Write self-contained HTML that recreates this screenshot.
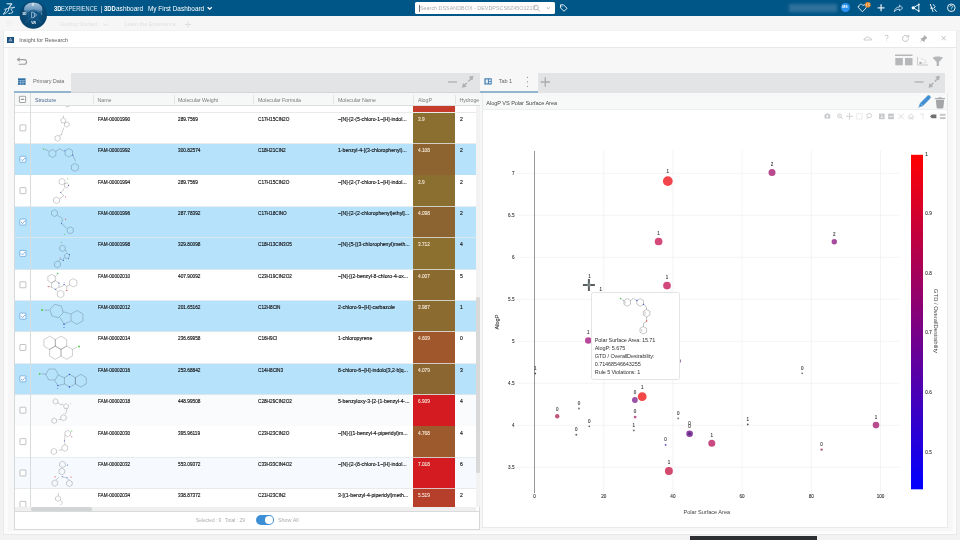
<!DOCTYPE html><html><head><meta charset='utf-8'><style>
*{box-sizing:border-box;margin:0;padding:0}
html,body{width:960px;height:540px;overflow:hidden;background:#f2f2f2;font-family:'Liberation Sans',sans-serif;color:#3d3d3d}
body{position:relative}
#root{position:absolute;left:0;top:0;width:960px;height:540px;will-change:transform}
.a{position:absolute}
.t{position:absolute;white-space:nowrap;line-height:1}
svg{position:absolute;overflow:visible}
</style></head><body><div id='root'>
<div class="a" style="left:0;top:0;width:960px;height:16px;background:#005686"></div>
<div class="a" style="left:0;top:16px;width:960px;height:14px;background:#f6f6f6"></div>
<div class="t" style="left:60px;top:21.75px;font-size:5.5px;color:#e0e1e3;letter-spacing:0px;font-weight:400;">Getting Started</div>
<div class="t" style="left:124.5px;top:21.80px;font-size:5.4px;color:#e0e1e3;letter-spacing:0px;font-weight:400;">Learn the Experience</div>
<svg style="left:0;top:0" width="960" height="30"><path d="M6 21.5h6M6 23.5h6M6 25.5h6" stroke="#ebebec" stroke-width="0.6"/><path d="M103 23.5l2.5 2 2.5-2" stroke="#dcdddf" stroke-width="0.8" fill="none"/><path d="M185 24.5h6M188 21.5v6" stroke="#dcdddf" stroke-width="0.9"/></svg>
<div class="t" style="left:53.9px;top:4.50px;font-size:7px;color:#fff;font-weight:700;transform:scaleX(0.82);transform-origin:0 50%;">3D</div>
<div class="t" style="left:61.25px;top:4.50px;font-size:7px;color:#e9f0f6;font-weight:400;transform:scaleX(0.81);transform-origin:0 50%;">EXPERIENCE</div>
<div class="t" style="left:100.6px;top:4.70px;font-size:7px;color:#e9f0f6;font-weight:400;transform:scaleX(1);transform-origin:0 50%;">|</div>
<div class="t" style="left:103.9px;top:4.50px;font-size:7px;color:#fff;font-weight:700;transform:scaleX(0.83);transform-origin:0 50%;">3DD</div>
<div class="t" style="left:115.8px;top:4.50px;font-size:7px;color:#fff;font-weight:400;transform:scaleX(0.93);transform-origin:0 50%;">ashboard</div>
<div class="t" style="left:147.8px;top:4.50px;font-size:7px;color:#fff;font-weight:400;transform:scaleX(0.92);transform-origin:0 50%;">My First Dashboard</div>
<svg style="left:0;top:0" width="960" height="16"><path d="M207.6 7.2l2.1 2 2.1-2" stroke="#fff" stroke-width="1.3" fill="none"/></svg>
<div class="a" style="left:415px;top:2.3px;width:140px;height:11.7px;background:#fff;border-radius:1.5px"></div>
<div class="a" style="left:418.8px;top:4.6px;width:0.55px;height:7px;background:#777"></div>
<div class="t" style="left:420px;top:5.50px;font-size:5.6px;color:#acacac;font-weight:400;transform:scaleX(0.965);transform-origin:0 50%;">Search DSSANDBOX - DEVDPSCS6Z45O1217</div>
<svg style="left:0;top:0" width="960" height="16"><circle cx="536" cy="7.6" r="2.3" stroke="#9a9a9a" stroke-width="0.7" fill="none"/><path d="M537.7 9.3l2 2" stroke="#9a9a9a" stroke-width="0.8"/><path d="M546.8 7.4l1.5 1.3 1.5-1.3" stroke="#8a8a8a" stroke-width="0.7" fill="none"/><path d="M560.5 4.8h3l3.5 3.5-3 3-3.5-3.5z" stroke="#fff" stroke-width="0.9" fill="none"/><circle cx="562" cy="6.3" r="0.5" fill="#fff"/></svg>
<div class="a" style="left:789px;top:4px;width:48px;height:8px;background:#3f7ba5;filter:blur(1.6px);opacity:0.75"></div>
<div class="a" style="left:840.9px;top:3.1px;width:9.4px;height:9.4px;border-radius:50%;background:#2b91f0"></div>
<div class="t" style="left:842.3px;top:6.30px;font-size:3.6px;color:#fff;letter-spacing:-0.15px;font-weight:700;">MS</div>
<svg style="left:0;top:0" width="960" height="16"><path d="M859 6.5c0-1.5 1.2-2.5 2.5-2.2 0.8 0.2 1.2 0.7 1.5 1.3 0.4-0.6 1.2-1 2-0.8 1.4 0.4 1.8 2 1 3.2l-3.6 3.8-3.6-3.8c-0.5-0.5-0.8-1-0.8-1.5z" stroke="#e6eef5" stroke-width="0.9" fill="none"/><circle cx="867.8" cy="4.8" r="2.8" fill="#e8892a"/><path d="M866.5 3.5v2.6M868.2 3.5h1.2l-0.7 1 0.7 1.3h-1.2" stroke="#fff" stroke-width="0.45" fill="none"/><path d="M877.6 7.8h7M881.1 4.3v7" stroke="#dde8f1" stroke-width="1.3"/><path d="M894.3 11.8c0.3-3 2.2-4.8 5.2-4.8v-1.8l3.2 2.8-3.2 2.8v-1.6c-2.2 0-3.8 0.8-5.2 2.6z" stroke="#e6eef5" stroke-width="0.8" fill="none" stroke-linejoin="round"/><path d="M913.2 7.8l5.6-3.3M913.2 7.8l5.6 3.3M918.8 4.5v6.6" stroke="#fff" stroke-width="0.9"/><circle cx="913.2" cy="7.8" r="1.6" fill="#fff"/><circle cx="918.8" cy="4.5" r="0.9" fill="#fff"/><circle cx="918.8" cy="11.1" r="0.9" fill="#fff"/><path d="M930.3 4l2.8 8M933 4.2l2.2 2.6-1.6 1.6M930.2 8.2h3.2M934.3 8.8l2.3 3" stroke="#fff" stroke-width="0.9" fill="none"/><circle cx="951.3" cy="7.8" r="3.8" stroke="#fff" stroke-width="0.9" fill="none"/><path d="M950 6.6c0-1.6 2.6-1.6 2.6 0 0 1-1.3 1-1.3 2" stroke="#fff" stroke-width="0.8" fill="none"/><circle cx="951.3" cy="9.9" r="0.45" fill="#fff"/></svg>
<svg style="left:0;top:0" width="20" height="16"><path d="M7 3.7L11.8 3.9L8.6 8.3" stroke="#d8e8f4" stroke-width="1.1" fill="none" stroke-linecap="round" stroke-linejoin="round"/><path d="M4.6 9.2C7 8.5 11 7.6 14.6 7.2" stroke="#c6dcee" stroke-width="0.8" fill="none" stroke-linecap="round"/><path d="M8.6 8.6C9.3 11 6.5 13.3 3.3 14.2C4.8 12.6 5.8 11 6.3 9.1" stroke="#d8e8f4" stroke-width="1" fill="none" stroke-linecap="round"/><path d="M14.2 7.4C11.6 8.2 9.9 9.5 12.4 11.1C13.8 12 12.6 13.3 8.9 13.5" stroke="#d8e8f4" stroke-width="1" fill="none" stroke-linecap="round"/></svg>
<svg style="left:0;top:0" width="60" height="32"><defs><radialGradient id="cg" cx="0.5" cy="0.45" r="0.6"><stop offset="0" stop-color="#0e5585"/><stop offset="1" stop-color="#06416a"/></radialGradient><linearGradient id="cg2" x1="0" y1="0" x2="0" y2="1"><stop offset="0" stop-color="#a4c0d8"/><stop offset="0.6" stop-color="#6f9cc0"/><stop offset="1" stop-color="#3f77a3" stop-opacity="0.3"/></linearGradient></defs><circle cx="33.3" cy="15" r="13.7" fill="url(#cg)"/><path d="M24.2 10.2c-0.6-4.3 3.6-7.6 9.1-7.6s9.7 3.3 9.1 7.6c-0.2 1.4-0.9 2.6-1.7 3.6-2-1.6-4.5-2.5-7.4-2.5s-5.4 0.9-7.4 2.5c-0.8-1-1.5-2.2-1.7-3.6z" fill="url(#cg2)"/><circle cx="33.3" cy="15" r="5.2" fill="#0b5080" fill-opacity="0.5" stroke="#2a6d9a" stroke-width="0.5"/><path d="M25.5 22.5l4-3.6M41.1 22.5l-4-3.6" stroke="#3a78a2" stroke-width="0.5"/><path d="M31.6 12.2v5.6h1.2c2.2 0 2.2-5.6 0-5.6z" stroke="#dce8f2" stroke-width="0.65" fill="none"/><path d="M33.8 12.6l2.9 2.4-2.9 2.4" stroke="#dce8f2" stroke-width="0.65" fill="none"/></svg>
<div class="t" style="left:22.3px;top:13.30px;font-size:3.4px;color:#fff;letter-spacing:-0.25px;font-weight:700;">3D</div>
<div class="t" style="left:31.8px;top:4.20px;font-size:3.6px;color:#ffffff;letter-spacing:0px;font-weight:700;">V</div>
<div class="t" style="left:31.3px;top:21.95px;font-size:3.3px;color:#fff;letter-spacing:-0.25px;font-weight:700;">V.R</div>
<div class="t" style="left:41.3px;top:12.90px;font-size:3.8px;color:#dfe7ee;letter-spacing:0px;font-weight:400;font-style:italic">i</div>
<div class="a" style="left:3.3px;top:30.5px;width:954.2px;height:504px;background:#fcfcfc;border:1px solid #eaeaea"></div>
<div class="a" style="left:7.8px;top:47.5px;width:945px;height:483.5px;background:#f7f7f7"></div>
<div class="a" style="left:4.3px;top:31.3px;width:952.2px;height:16.5px;background:#fff;border-bottom:1px solid #e6e8e9"></div>
<div class="a" style="left:7.2px;top:36.6px;width:6.6px;height:6.4px;background:#1d4f7f"></div>
<svg style="left:0;top:0" width="20" height="50"><path d="M9 41.5l1.5-3.5 1.5 3.5M9.5 40.8h2" stroke="#cfe0ee" stroke-width="0.6" fill="none"/></svg>
<div class="t" style="left:19.2px;top:37.75px;font-size:5.5px;color:#606060;letter-spacing:-0.02px;font-weight:400;">Insight for Research</div>
<svg style="left:0;top:0" width="960" height="72"><path d="M864 40h7.5c0.3-1.2-0.8-2-1.8-1.7-0.4-1.6-2.8-2-3.6-0.5-1.2-0.2-2.3 1-2.1 2.2z" stroke="#a9abad" stroke-width="0.6" fill="none"/><path d="M884.8 36.3c0.3-1.5 3.3-1.5 3.3 0.3 0 1.3-1.6 1.2-1.6 2.7" stroke="#a9abad" stroke-width="0.7" fill="none"/><circle cx="886.5" cy="41" r="0.4" fill="#a9abad"/><path d="M908.5 38.5a3 3 0 1 1-0.9-2.2" stroke="#a9abad" stroke-width="0.7" fill="none"/><path d="M908.7 34.8v2.2h-2.2" stroke="#a9abad" stroke-width="0.7" fill="none"/><path d="M924.5 35.5l2.5 2.5-1.3 0.5-1.5 2-0.3 1.2-3-3 1.2-0.3 2-1.5z M922.2 39.7l-1.7 1.8" stroke="#a9abad" stroke-width="0.7" fill="#a9abad"/><path d="M941.5 36l4.3 4.3M945.8 36l-4.3 4.3" stroke="#a9abad" stroke-width="0.7"/><path d="M17.6 59.6h6.6c1.6 0 2.4 1 2.4 2.4s-0.8 2.3-2.4 2.3h-5.6" stroke="#9d9fa1" stroke-width="1.1" fill="none"/><path d="M16.6 59.6l3-2.4v4.8z" fill="#9d9fa1"/><rect x="895" y="54.5" width="17.5" height="1.5" fill="#b5b7b9"/><rect x="895.3" y="58" width="7.5" height="7.3" fill="#b5b7b9"/><rect x="905" y="58" width="7.5" height="7.3" fill="#b5b7b9"/><path d="M917.5 57v8h10.5" stroke="#b5b7b9" stroke-width="0.7" fill="none"/><circle cx="920.5" cy="63" r="1.3" fill="#b5b7b9"/><circle cx="922" cy="59" r="0.6" fill="#b5b7b9"/><circle cx="925" cy="60" r="0.6" fill="#b5b7b9"/><circle cx="924" cy="63" r="0.6" fill="#b5b7b9"/><circle cx="926" cy="62" r="0.5" fill="#b5b7b9"/><path d="M932.8 58c0-2 10-2 10 0l-3.8 4v4h-2.4v-4z" fill="#b5b7b9"/></svg>
<div class="a" style="left:14px;top:73px;width:466px;height:19.5px;background:#e3e4e5"></div>
<div class="a" style="left:14px;top:73px;width:57px;height:19.5px;background:#f7f7f7"></div>
<div class="a" style="left:14px;top:91.8px;width:466px;height:0.8px;background:#d3d5d6"></div>
<div class="a" style="left:14px;top:91.2px;width:57px;height:1.5px;background:#93b4cf"></div>
<svg style="left:0;top:0" width="480" height="95"><rect x="18" y="78.3" width="7.6" height="6.6" fill="#3270a8"/><path d="M18 80.6h7.6M18 82.7h7.6M20.6 80.6v4.3M23 80.6v4.3" stroke="#b9d2e8" stroke-width="0.55"/><path d="M448 82h9" stroke="#aeb0b2" stroke-width="1.3"/><path d="M468.3 81.5l2.8-2.8M466.9 82.9l-2.7 2.7" stroke="#aeb0b2" stroke-width="1.4"/><path d="M473.4 75.8l-4.8 1 3.8 3.8z M462 87.8l4.8-1-3.8-3.8z" fill="#aeb0b2"/></svg>
<div class="t" style="left:33px;top:78.80px;font-size:5.6px;color:#727272;letter-spacing:-0.12px;font-weight:400;">Primary Data</div>
<div class="a" style="left:14px;top:92.5px;width:466px;height:437px;background:#fff;border:1px solid #d6d9da;border-top:none"></div>
<div class="a" style="left:14.5px;top:92.5px;width:465px;height:13px;background:#f6f7f7;border-bottom:1px solid #dcdfe0"></div>
<div class="a" style="left:14.5px;top:92.5px;width:464.5px;height:13px;overflow:hidden">
<div class="t" style="left:20.5px;top:5px;font-size:5.3px;color:#46678a;letter-spacing:-0.05px">Structure</div>
<div class="t" style="left:83.0px;top:5px;font-size:5.3px;color:#7c7c7c;letter-spacing:-0.05px">Name</div>
<div class="t" style="left:163.5px;top:5px;font-size:5.3px;color:#7c7c7c;letter-spacing:-0.05px">Molecular Weight</div>
<div class="t" style="left:243.5px;top:5px;font-size:5.3px;color:#7c7c7c;letter-spacing:-0.05px">Molecular Formula</div>
<div class="t" style="left:323.5px;top:5px;font-size:5.3px;color:#7c7c7c;letter-spacing:-0.05px">Molecular Name</div>
<div class="t" style="left:403.5px;top:5px;font-size:5.3px;color:#7c7c7c;letter-spacing:-0.05px">AlogP</div>
<div class="t" style="left:445.0px;top:5px;font-size:5.3px;color:#7c7c7c;letter-spacing:-0.05px">Hydrogen Bond Donors</div>
</div>
<div class="a" style="left:93px;top:95px;width:0.7px;height:8.5px;background:#e2e4e5"></div>
<div class="a" style="left:173.75px;top:95px;width:0.7px;height:8.5px;background:#e2e4e5"></div>
<div class="a" style="left:253.25px;top:95px;width:0.7px;height:8.5px;background:#e2e4e5"></div>
<div class="a" style="left:333.25px;top:95px;width:0.7px;height:8.5px;background:#e2e4e5"></div>
<div class="a" style="left:413.25px;top:95px;width:0.7px;height:8.5px;background:#e2e4e5"></div>
<div class="a" style="left:455px;top:95px;width:0.7px;height:8.5px;background:#e2e4e5"></div>
<div class="a" style="left:30px;top:92.8px;width:0.7px;height:13px;background:#d9dcdd"></div>
<svg style="left:0;top:0" width="40" height="110"><rect x="19.4" y="96.3" width="6.2" height="6.2" rx="0.6" fill="#fff" stroke="#6f7173" stroke-width="0.65"/><path d="M20.8 99.3h3.4" stroke="#555" stroke-width="0.75"/></svg>
<div class="a" style="left:14.5px;top:105.5px;width:465px;height:401.5px;overflow:hidden">
<div class="a" style="left:398.75px;top:0.7000000000000028px;width:41.5px;height:5.6px;background:#c53d2a"></div>
<div class="a" style="left:0;top:6.299999999999997px;width:461.5px;height:0.8px;background:#e8eaec"></div>
<div class="a" style="left:0;top:7.20px;width:465px;height:31.37px;background:#fff"></div>
<div class="a" style="left:398.75px;top:7.20px;width:41.5px;height:31.37px;background:#8b6f30"></div>
<div class="a" style="left:0;top:37.67px;width:465px;height:0.9px;background:rgba(228,231,234,0.8)"></div>
<div class="t" style="left:83.5px;top:11.30px;font-size:5.6px;color:#111;-webkit-text-stroke:0.15px #111;transform:scaleX(0.84);transform-origin:0 50%">FAM-00001990</div>
<div class="t" style="left:163.3px;top:11.30px;font-size:5.6px;color:#111;-webkit-text-stroke:0.15px #111;transform:scaleX(0.85);transform-origin:0 50%">289.7569</div>
<div class="t" style="left:243.3px;top:11.30px;font-size:5.6px;color:#111;-webkit-text-stroke:0.15px #111;transform:scaleX(0.84);transform-origin:0 50%">C17H15ClN2O</div>
<div class="t" style="left:323.7px;top:11.30px;font-size:5.6px;color:#111;-webkit-text-stroke:0.15px #111;transform:scaleX(0.92);transform-origin:0 50%">~[N]-[2-(5-chloro-1~[H]-indol...</div>
<div class="t" style="left:403.5px;top:11.30px;font-size:5.6px;color:#f5ead8;-webkit-text-stroke:0.1px #f5ead8;transform:scaleX(0.85);transform-origin:0 50%">3.9</div>
<div class="t" style="left:445.5px;top:11.30px;font-size:5.6px;color:#111;-webkit-text-stroke:0.15px #111;transform:scaleX(0.9);transform-origin:0 50%">2</div>
<svg style="left:0;top:0" width="20" height="400"><rect x="4.899999999999999" y="18.90" width="6" height="6" rx="0.6" fill="#fff" stroke="#9a9c9e" stroke-width="0.6"/></svg>
<div class="a" style="left:0;top:38.57px;width:465px;height:31.37px;background:#b6e2fc"></div>
<div class="a" style="left:398.75px;top:38.57px;width:41.5px;height:31.37px;background:#8d6330"></div>
<div class="a" style="left:0;top:69.04px;width:465px;height:0.9px;background:rgba(228,231,234,0.8)"></div>
<div class="t" style="left:83.5px;top:42.67px;font-size:5.6px;color:#111;-webkit-text-stroke:0.15px #111;transform:scaleX(0.84);transform-origin:0 50%">FAM-00001992</div>
<div class="t" style="left:163.3px;top:42.67px;font-size:5.6px;color:#111;-webkit-text-stroke:0.15px #111;transform:scaleX(0.85);transform-origin:0 50%">300.82574</div>
<div class="t" style="left:243.3px;top:42.67px;font-size:5.6px;color:#111;-webkit-text-stroke:0.15px #111;transform:scaleX(0.84);transform-origin:0 50%">C18H21ClN2</div>
<div class="t" style="left:323.7px;top:42.67px;font-size:5.6px;color:#111;-webkit-text-stroke:0.15px #111;transform:scaleX(0.92);transform-origin:0 50%">1-benzyl-4-[(3-chlorophenyl)...</div>
<div class="t" style="left:403.5px;top:42.67px;font-size:5.6px;color:#f5ead8;-webkit-text-stroke:0.1px #f5ead8;transform:scaleX(0.85);transform-origin:0 50%">4.108</div>
<div class="t" style="left:445.5px;top:42.67px;font-size:5.6px;color:#111;-webkit-text-stroke:0.15px #111;transform:scaleX(0.9);transform-origin:0 50%">2</div>
<svg style="left:0;top:0" width="20" height="400"><rect x="4.899999999999999" y="50.27" width="6" height="6" rx="0.6" fill="#fff" stroke="#4a91d2" stroke-width="0.6"/><path d="M6.0 53.27l1.5 1.5 2.8-3" stroke="#4a91d2" stroke-width="0.7" fill="none"/></svg>
<div class="a" style="left:0;top:69.94px;width:465px;height:31.37px;background:#fff"></div>
<div class="a" style="left:398.75px;top:69.94px;width:41.5px;height:31.37px;background:#8b6f30"></div>
<div class="a" style="left:0;top:100.41px;width:465px;height:0.9px;background:rgba(228,231,234,0.8)"></div>
<div class="t" style="left:83.5px;top:74.04px;font-size:5.6px;color:#111;-webkit-text-stroke:0.15px #111;transform:scaleX(0.84);transform-origin:0 50%">FAM-00001994</div>
<div class="t" style="left:163.3px;top:74.04px;font-size:5.6px;color:#111;-webkit-text-stroke:0.15px #111;transform:scaleX(0.85);transform-origin:0 50%">289.7569</div>
<div class="t" style="left:243.3px;top:74.04px;font-size:5.6px;color:#111;-webkit-text-stroke:0.15px #111;transform:scaleX(0.84);transform-origin:0 50%">C17H15ClN2O</div>
<div class="t" style="left:323.7px;top:74.04px;font-size:5.6px;color:#111;-webkit-text-stroke:0.15px #111;transform:scaleX(0.92);transform-origin:0 50%">~[N]-[2-(7-chloro-1~[H]-indol...</div>
<div class="t" style="left:403.5px;top:74.04px;font-size:5.6px;color:#f5ead8;-webkit-text-stroke:0.1px #f5ead8;transform:scaleX(0.85);transform-origin:0 50%">3.9</div>
<div class="t" style="left:445.5px;top:74.04px;font-size:5.6px;color:#111;-webkit-text-stroke:0.15px #111;transform:scaleX(0.9);transform-origin:0 50%">2</div>
<svg style="left:0;top:0" width="20" height="400"><rect x="4.899999999999999" y="81.64" width="6" height="6" rx="0.6" fill="#fff" stroke="#9a9c9e" stroke-width="0.6"/></svg>
<div class="a" style="left:0;top:101.31px;width:465px;height:31.37px;background:#b6e2fc"></div>
<div class="a" style="left:398.75px;top:101.31px;width:41.5px;height:31.37px;background:#8c6431"></div>
<div class="a" style="left:0;top:131.78px;width:465px;height:0.9px;background:rgba(228,231,234,0.8)"></div>
<div class="t" style="left:83.5px;top:105.41px;font-size:5.6px;color:#111;-webkit-text-stroke:0.15px #111;transform:scaleX(0.84);transform-origin:0 50%">FAM-00001996</div>
<div class="t" style="left:163.3px;top:105.41px;font-size:5.6px;color:#111;-webkit-text-stroke:0.15px #111;transform:scaleX(0.85);transform-origin:0 50%">287.78392</div>
<div class="t" style="left:243.3px;top:105.41px;font-size:5.6px;color:#111;-webkit-text-stroke:0.15px #111;transform:scaleX(0.84);transform-origin:0 50%">C17H18ClNO</div>
<div class="t" style="left:323.7px;top:105.41px;font-size:5.6px;color:#111;-webkit-text-stroke:0.15px #111;transform:scaleX(0.92);transform-origin:0 50%">~[N]-[2-(2-chlorophenyl)ethyl]...</div>
<div class="t" style="left:403.5px;top:105.41px;font-size:5.6px;color:#f5ead8;-webkit-text-stroke:0.1px #f5ead8;transform:scaleX(0.85);transform-origin:0 50%">4.098</div>
<div class="t" style="left:445.5px;top:105.41px;font-size:5.6px;color:#111;-webkit-text-stroke:0.15px #111;transform:scaleX(0.9);transform-origin:0 50%">2</div>
<svg style="left:0;top:0" width="20" height="400"><rect x="4.899999999999999" y="113.01" width="6" height="6" rx="0.6" fill="#fff" stroke="#4a91d2" stroke-width="0.6"/><path d="M6.0 116.01l1.5 1.5 2.8-3" stroke="#4a91d2" stroke-width="0.7" fill="none"/></svg>
<div class="a" style="left:0;top:132.68px;width:465px;height:31.37px;background:#b6e2fc"></div>
<div class="a" style="left:398.75px;top:132.68px;width:41.5px;height:31.37px;background:#8b7030"></div>
<div class="a" style="left:0;top:163.15px;width:465px;height:0.9px;background:rgba(228,231,234,0.8)"></div>
<div class="t" style="left:83.5px;top:136.78px;font-size:5.6px;color:#111;-webkit-text-stroke:0.15px #111;transform:scaleX(0.84);transform-origin:0 50%">FAM-00001998</div>
<div class="t" style="left:163.3px;top:136.78px;font-size:5.6px;color:#111;-webkit-text-stroke:0.15px #111;transform:scaleX(0.85);transform-origin:0 50%">329.80098</div>
<div class="t" style="left:243.3px;top:136.78px;font-size:5.6px;color:#111;-webkit-text-stroke:0.15px #111;transform:scaleX(0.84);transform-origin:0 50%">C18H13ClN3O5</div>
<div class="t" style="left:323.7px;top:136.78px;font-size:5.6px;color:#111;-webkit-text-stroke:0.15px #111;transform:scaleX(0.92);transform-origin:0 50%">~[N]-[5-[(3-chlorophenyl)meth...</div>
<div class="t" style="left:403.5px;top:136.78px;font-size:5.6px;color:#f5ead8;-webkit-text-stroke:0.1px #f5ead8;transform:scaleX(0.85);transform-origin:0 50%">3.712</div>
<div class="t" style="left:445.5px;top:136.78px;font-size:5.6px;color:#111;-webkit-text-stroke:0.15px #111;transform:scaleX(0.9);transform-origin:0 50%">4</div>
<svg style="left:0;top:0" width="20" height="400"><rect x="4.899999999999999" y="144.38" width="6" height="6" rx="0.6" fill="#fff" stroke="#4a91d2" stroke-width="0.6"/><path d="M6.0 147.38l1.5 1.5 2.8-3" stroke="#4a91d2" stroke-width="0.7" fill="none"/></svg>
<div class="a" style="left:0;top:164.05px;width:465px;height:31.37px;background:#fff"></div>
<div class="a" style="left:398.75px;top:164.05px;width:41.5px;height:31.37px;background:#8b6a30"></div>
<div class="a" style="left:0;top:194.52px;width:465px;height:0.9px;background:rgba(228,231,234,0.8)"></div>
<div class="t" style="left:83.5px;top:168.15px;font-size:5.6px;color:#111;-webkit-text-stroke:0.15px #111;transform:scaleX(0.84);transform-origin:0 50%">FAM-00002010</div>
<div class="t" style="left:163.3px;top:168.15px;font-size:5.6px;color:#111;-webkit-text-stroke:0.15px #111;transform:scaleX(0.85);transform-origin:0 50%">407.90092</div>
<div class="t" style="left:243.3px;top:168.15px;font-size:5.6px;color:#111;-webkit-text-stroke:0.15px #111;transform:scaleX(0.84);transform-origin:0 50%">C23H19ClN2O2</div>
<div class="t" style="left:323.7px;top:168.15px;font-size:5.6px;color:#111;-webkit-text-stroke:0.15px #111;transform:scaleX(0.92);transform-origin:0 50%">~[N]-[(2-benzyl-8-chloro-4-ox...</div>
<div class="t" style="left:403.5px;top:168.15px;font-size:5.6px;color:#f5ead8;-webkit-text-stroke:0.1px #f5ead8;transform:scaleX(0.85);transform-origin:0 50%">4.007</div>
<div class="t" style="left:445.5px;top:168.15px;font-size:5.6px;color:#111;-webkit-text-stroke:0.15px #111;transform:scaleX(0.9);transform-origin:0 50%">5</div>
<svg style="left:0;top:0" width="20" height="400"><rect x="4.899999999999999" y="175.75" width="6" height="6" rx="0.6" fill="#fff" stroke="#9a9c9e" stroke-width="0.6"/></svg>
<div class="a" style="left:0;top:195.42px;width:465px;height:31.37px;background:#b6e2fc"></div>
<div class="a" style="left:398.75px;top:195.42px;width:41.5px;height:31.37px;background:#8b6b30"></div>
<div class="a" style="left:0;top:225.89px;width:465px;height:0.9px;background:rgba(228,231,234,0.8)"></div>
<div class="t" style="left:83.5px;top:199.52px;font-size:5.6px;color:#111;-webkit-text-stroke:0.15px #111;transform:scaleX(0.84);transform-origin:0 50%">FAM-00002012</div>
<div class="t" style="left:163.3px;top:199.52px;font-size:5.6px;color:#111;-webkit-text-stroke:0.15px #111;transform:scaleX(0.85);transform-origin:0 50%">201.65162</div>
<div class="t" style="left:243.3px;top:199.52px;font-size:5.6px;color:#111;-webkit-text-stroke:0.15px #111;transform:scaleX(0.84);transform-origin:0 50%">C12H8ClN</div>
<div class="t" style="left:323.7px;top:199.52px;font-size:5.6px;color:#111;-webkit-text-stroke:0.15px #111;transform:scaleX(0.92);transform-origin:0 50%">2-chloro-9~[H]-carbazole</div>
<div class="t" style="left:403.5px;top:199.52px;font-size:5.6px;color:#f5ead8;-webkit-text-stroke:0.1px #f5ead8;transform:scaleX(0.85);transform-origin:0 50%">3.987</div>
<div class="t" style="left:445.5px;top:199.52px;font-size:5.6px;color:#111;-webkit-text-stroke:0.15px #111;transform:scaleX(0.9);transform-origin:0 50%">1</div>
<svg style="left:0;top:0" width="20" height="400"><rect x="4.899999999999999" y="207.12" width="6" height="6" rx="0.6" fill="#fff" stroke="#4a91d2" stroke-width="0.6"/><path d="M6.0 210.12l1.5 1.5 2.8-3" stroke="#4a91d2" stroke-width="0.7" fill="none"/></svg>
<div class="a" style="left:0;top:226.79px;width:465px;height:31.37px;background:#fff"></div>
<div class="a" style="left:398.75px;top:226.79px;width:41.5px;height:31.37px;background:#a0572b"></div>
<div class="a" style="left:0;top:257.26px;width:465px;height:0.9px;background:rgba(228,231,234,0.8)"></div>
<div class="t" style="left:83.5px;top:230.89px;font-size:5.6px;color:#111;-webkit-text-stroke:0.15px #111;transform:scaleX(0.84);transform-origin:0 50%">FAM-00002014</div>
<div class="t" style="left:163.3px;top:230.89px;font-size:5.6px;color:#111;-webkit-text-stroke:0.15px #111;transform:scaleX(0.85);transform-origin:0 50%">236.69958</div>
<div class="t" style="left:243.3px;top:230.89px;font-size:5.6px;color:#111;-webkit-text-stroke:0.15px #111;transform:scaleX(0.84);transform-origin:0 50%">C16H9Cl</div>
<div class="t" style="left:323.7px;top:230.89px;font-size:5.6px;color:#111;-webkit-text-stroke:0.15px #111;transform:scaleX(0.92);transform-origin:0 50%">1-chloropyrene</div>
<div class="t" style="left:403.5px;top:230.89px;font-size:5.6px;color:#f5ead8;-webkit-text-stroke:0.1px #f5ead8;transform:scaleX(0.85);transform-origin:0 50%">4.609</div>
<div class="t" style="left:445.5px;top:230.89px;font-size:5.6px;color:#111;-webkit-text-stroke:0.15px #111;transform:scaleX(0.9);transform-origin:0 50%">0</div>
<svg style="left:0;top:0" width="20" height="400"><rect x="4.899999999999999" y="238.49" width="6" height="6" rx="0.6" fill="#fff" stroke="#9a9c9e" stroke-width="0.6"/></svg>
<div class="a" style="left:0;top:258.16px;width:465px;height:31.37px;background:#b6e2fc"></div>
<div class="a" style="left:398.75px;top:258.16px;width:41.5px;height:31.37px;background:#8b6630"></div>
<div class="a" style="left:0;top:288.63px;width:465px;height:0.9px;background:rgba(228,231,234,0.8)"></div>
<div class="t" style="left:83.5px;top:262.26px;font-size:5.6px;color:#111;-webkit-text-stroke:0.15px #111;transform:scaleX(0.84);transform-origin:0 50%">FAM-00002016</div>
<div class="t" style="left:163.3px;top:262.26px;font-size:5.6px;color:#111;-webkit-text-stroke:0.15px #111;transform:scaleX(0.85);transform-origin:0 50%">253.68842</div>
<div class="t" style="left:243.3px;top:262.26px;font-size:5.6px;color:#111;-webkit-text-stroke:0.15px #111;transform:scaleX(0.84);transform-origin:0 50%">C14H8ClN3</div>
<div class="t" style="left:323.7px;top:262.26px;font-size:5.6px;color:#111;-webkit-text-stroke:0.15px #111;transform:scaleX(0.92);transform-origin:0 50%">8-chloro-6~[H]-indolo[3,2-b]q...</div>
<div class="t" style="left:403.5px;top:262.26px;font-size:5.6px;color:#f5ead8;-webkit-text-stroke:0.1px #f5ead8;transform:scaleX(0.85);transform-origin:0 50%">4.079</div>
<div class="t" style="left:445.5px;top:262.26px;font-size:5.6px;color:#111;-webkit-text-stroke:0.15px #111;transform:scaleX(0.9);transform-origin:0 50%">3</div>
<svg style="left:0;top:0" width="20" height="400"><rect x="4.899999999999999" y="269.86" width="6" height="6" rx="0.6" fill="#fff" stroke="#4a91d2" stroke-width="0.6"/><path d="M6.0 272.86l1.5 1.5 2.8-3" stroke="#4a91d2" stroke-width="0.7" fill="none"/></svg>
<div class="a" style="left:0;top:289.53px;width:465px;height:31.37px;background:#fafbfd"></div>
<div class="a" style="left:398.75px;top:289.53px;width:41.5px;height:31.37px;background:#d41b22"></div>
<div class="a" style="left:0;top:320.00px;width:465px;height:0.9px;background:rgba(228,231,234,0.8)"></div>
<div class="t" style="left:83.5px;top:293.63px;font-size:5.6px;color:#111;-webkit-text-stroke:0.15px #111;transform:scaleX(0.84);transform-origin:0 50%">FAM-00002018</div>
<div class="t" style="left:163.3px;top:293.63px;font-size:5.6px;color:#111;-webkit-text-stroke:0.15px #111;transform:scaleX(0.85);transform-origin:0 50%">448.99508</div>
<div class="t" style="left:243.3px;top:293.63px;font-size:5.6px;color:#111;-webkit-text-stroke:0.15px #111;transform:scaleX(0.84);transform-origin:0 50%">C28H29ClN2O2</div>
<div class="t" style="left:323.7px;top:293.63px;font-size:5.6px;color:#111;-webkit-text-stroke:0.15px #111;transform:scaleX(0.92);transform-origin:0 50%">5-benzyloxy-3-[2-(1-benzyl-4-...</div>
<div class="t" style="left:403.5px;top:293.63px;font-size:5.6px;color:#f5ead8;-webkit-text-stroke:0.1px #f5ead8;transform:scaleX(0.85);transform-origin:0 50%">6.909</div>
<div class="t" style="left:445.5px;top:293.63px;font-size:5.6px;color:#111;-webkit-text-stroke:0.15px #111;transform:scaleX(0.9);transform-origin:0 50%">4</div>
<svg style="left:0;top:0" width="20" height="400"><rect x="4.899999999999999" y="301.23" width="6" height="6" rx="0.6" fill="#fff" stroke="#9a9c9e" stroke-width="0.6"/></svg>
<div class="a" style="left:0;top:320.90px;width:465px;height:31.37px;background:#fff"></div>
<div class="a" style="left:398.75px;top:320.90px;width:41.5px;height:31.37px;background:#9d5a2c"></div>
<div class="a" style="left:0;top:351.37px;width:465px;height:0.9px;background:rgba(228,231,234,0.8)"></div>
<div class="t" style="left:83.5px;top:325.00px;font-size:5.6px;color:#111;-webkit-text-stroke:0.15px #111;transform:scaleX(0.84);transform-origin:0 50%">FAM-00002030</div>
<div class="t" style="left:163.3px;top:325.00px;font-size:5.6px;color:#111;-webkit-text-stroke:0.15px #111;transform:scaleX(0.85);transform-origin:0 50%">395.96119</div>
<div class="t" style="left:243.3px;top:325.00px;font-size:5.6px;color:#111;-webkit-text-stroke:0.15px #111;transform:scaleX(0.84);transform-origin:0 50%">C23H23ClN2O</div>
<div class="t" style="left:323.7px;top:325.00px;font-size:5.6px;color:#111;-webkit-text-stroke:0.15px #111;transform:scaleX(0.92);transform-origin:0 50%">~[N]-[(1-benzyl-4-piperidyl)m...</div>
<div class="t" style="left:403.5px;top:325.00px;font-size:5.6px;color:#f5ead8;-webkit-text-stroke:0.1px #f5ead8;transform:scaleX(0.85);transform-origin:0 50%">4.768</div>
<div class="t" style="left:445.5px;top:325.00px;font-size:5.6px;color:#111;-webkit-text-stroke:0.15px #111;transform:scaleX(0.9);transform-origin:0 50%">4</div>
<svg style="left:0;top:0" width="20" height="400"><rect x="4.899999999999999" y="332.60" width="6" height="6" rx="0.6" fill="#fff" stroke="#9a9c9e" stroke-width="0.6"/></svg>
<div class="a" style="left:0;top:352.27px;width:465px;height:31.37px;background:#f6f9fd"></div>
<div class="a" style="left:398.75px;top:352.27px;width:41.5px;height:31.37px;background:#d41b22"></div>
<div class="a" style="left:0;top:382.74px;width:465px;height:0.9px;background:rgba(228,231,234,0.8)"></div>
<div class="t" style="left:83.5px;top:356.37px;font-size:5.6px;color:#111;-webkit-text-stroke:0.15px #111;transform:scaleX(0.84);transform-origin:0 50%">FAM-00002032</div>
<div class="t" style="left:163.3px;top:356.37px;font-size:5.6px;color:#111;-webkit-text-stroke:0.15px #111;transform:scaleX(0.85);transform-origin:0 50%">553.09372</div>
<div class="t" style="left:243.3px;top:356.37px;font-size:5.6px;color:#111;-webkit-text-stroke:0.15px #111;transform:scaleX(0.84);transform-origin:0 50%">C33H33ClN4O2</div>
<div class="t" style="left:323.7px;top:356.37px;font-size:5.6px;color:#111;-webkit-text-stroke:0.15px #111;transform:scaleX(0.92);transform-origin:0 50%">~[N]-[2-(8-chloro-1~[H]-indol...</div>
<div class="t" style="left:403.5px;top:356.37px;font-size:5.6px;color:#f5ead8;-webkit-text-stroke:0.1px #f5ead8;transform:scaleX(0.85);transform-origin:0 50%">7.018</div>
<div class="t" style="left:445.5px;top:356.37px;font-size:5.6px;color:#111;-webkit-text-stroke:0.15px #111;transform:scaleX(0.9);transform-origin:0 50%">6</div>
<svg style="left:0;top:0" width="20" height="400"><rect x="4.899999999999999" y="363.97" width="6" height="6" rx="0.6" fill="#fff" stroke="#9a9c9e" stroke-width="0.6"/></svg>
<div class="a" style="left:0;top:383.64px;width:465px;height:31.37px;background:#fff"></div>
<div class="a" style="left:398.75px;top:383.64px;width:41.5px;height:31.37px;background:#b63f2b"></div>
<div class="a" style="left:0;top:414.11px;width:465px;height:0.9px;background:rgba(228,231,234,0.8)"></div>
<div class="t" style="left:83.5px;top:387.74px;font-size:5.6px;color:#111;-webkit-text-stroke:0.15px #111;transform:scaleX(0.84);transform-origin:0 50%">FAM-00002034</div>
<div class="t" style="left:163.3px;top:387.74px;font-size:5.6px;color:#111;-webkit-text-stroke:0.15px #111;transform:scaleX(0.85);transform-origin:0 50%">338.87372</div>
<div class="t" style="left:243.3px;top:387.74px;font-size:5.6px;color:#111;-webkit-text-stroke:0.15px #111;transform:scaleX(0.84);transform-origin:0 50%">C21H23ClN2</div>
<div class="t" style="left:323.7px;top:387.74px;font-size:5.6px;color:#111;-webkit-text-stroke:0.15px #111;transform:scaleX(0.92);transform-origin:0 50%">3-[(1-benzyl-4-piperidyl)meth...</div>
<div class="t" style="left:403.5px;top:387.74px;font-size:5.6px;color:#f5ead8;-webkit-text-stroke:0.1px #f5ead8;transform:scaleX(0.85);transform-origin:0 50%">5.519</div>
<div class="t" style="left:445.5px;top:387.74px;font-size:5.6px;color:#111;-webkit-text-stroke:0.15px #111;transform:scaleX(0.9);transform-origin:0 50%">2</div>
<svg style="left:0;top:0" width="20" height="400"><rect x="4.899999999999999" y="395.34" width="6" height="6" rx="0.6" fill="#fff" stroke="#9a9c9e" stroke-width="0.6"/></svg>
<div class="a" style="left:-14.5px;top:-105.5px;width:100px;height:540px"><svg style="left:0;top:0" width="100" height="540"><g fill="none" stroke="#000" stroke-opacity="0.42" stroke-width="0.45" stroke-linejoin="round"><path d="M67.50 107.10L65.08 105.70L65.08 102.90L67.50 101.50L69.92 102.90L69.92 105.70Z"/><path d="M63.30 117.80L65.96 119.73L64.95 122.87L61.65 122.87L60.64 119.73Z"/><path d="M66.80 127.20L64.55 125.90L64.55 123.30L66.80 122.00L69.05 123.30L69.05 125.90Z"/><path d="M63.3 117.8L63.5 115.5"/><path d="M64 127.5L62.5 131L61.5 134.5"/><path d="M61.5 134.5L58.8 136"/><path d="M57.60 141.30L55.00 139.80L55.00 136.80L57.60 135.30L60.20 136.80L60.20 139.80Z"/><path d="M44.5 149.2L48.5 150.8"/><path d="M52.40 157.50L48.94 155.50L48.94 151.50L52.40 149.50L55.86 151.50L55.86 155.50Z"/><path d="M55.9 151.5L59.6 148.8L63.8 151.2"/><path d="M72.52 154.95L68.80 157.10L65.08 154.95L65.08 150.65L68.80 148.50L72.52 150.65Z"/><path d="M72.8 155.1L75.6 161.2"/><path d="M74.90 171.40L71.44 169.40L71.44 165.40L74.90 163.40L78.36 165.40L78.36 169.40Z"/><path d="M62.00 185.00L59.14 183.35L59.14 180.05L62.00 178.40L64.86 180.05L64.86 183.35Z"/><path d="M69.00 185.20L67.27 187.58L64.48 186.67L64.48 183.73L67.27 182.82Z"/><path d="M64.5 187.7L62.8 190.8L60.8 192.5"/><path d="M60.8 192.5L63.8 195.8"/><path d="M63.8 195.8L59.8 198.5"/><path d="M56.50 203.70L53.56 202.00L53.56 198.60L56.50 196.90L59.44 198.60L59.44 202.00Z"/><path d="M54.50 216.50L51.56 214.80L51.56 211.40L54.50 209.70L57.44 211.40L57.44 214.80Z"/><path d="M57.5 215.3L60.5 217.2L62.5 219.2"/><path d="M62.5 219.2L61.5 223.4"/><path d="M61.5 223.6L64.2 225.8L66.2 228.2"/><path d="M70.20 233.80L67.17 232.05L67.17 228.55L70.20 226.80L73.23 228.55L73.23 232.05Z"/><path d="M62.50 251.50L59.73 249.90L59.73 246.70L62.50 245.10L65.27 246.70L65.27 249.90Z"/><path d="M65.3 250L66.8 252.5"/><path d="M67.00 253.20L69.66 255.13L68.65 258.27L65.35 258.27L64.34 255.13Z"/><path d="M64.2 257.3L62.8 260.2"/><path d="M62.8 260.2L60.2 258.7"/><path d="M60.2 258.7L59 261"/><path d="M57.50 267.80L54.56 266.10L54.56 262.70L57.50 261.00L60.44 262.70L60.44 266.10Z"/><path d="M51.60 282.90L47.88 280.75L47.88 276.45L51.60 274.30L55.32 276.45L55.32 280.75Z"/><path d="M55.30 289.30L51.58 287.15L51.58 282.85L55.30 280.70L59.02 282.85L59.02 287.15Z"/><path d="M55.3 276.5L57 274.3"/><path d="M51.6 287.3L48.8 286.3"/><path d="M59 287.3L62 286.4L64 284.6"/><path d="M64.1 284.6L66.8 286.6"/><path d="M66.8 286.6L66.8 289.6"/><path d="M66.8 286.6L69.6 284.9"/><path d="M73.30 287.00L69.66 284.90L69.66 280.70L73.30 278.60L76.94 280.70L76.94 284.90Z"/><path d="M55.3 289.3L57.8 291.2"/><path d="M60.60 297.80L57.31 295.90L57.31 292.10L60.60 290.20L63.89 292.10L63.89 295.90Z"/><path d="M58.39 317.66L51.72 315.88L49.94 309.21L54.81 304.34L61.48 306.12L63.26 312.79Z"/><path d="M77.00 324.30L71.02 320.85L71.02 313.95L77.00 310.50L82.98 313.95L82.98 320.85Z"/><path d="M63.4 311.8L70.5 313.9"/><path d="M59.9 317.5L64 324"/><path d="M64 324L70.5 321.3"/><path d="M49.2 310.4L44.5 310.1"/><path d="M49.60 349.40L43.88 346.10L43.88 339.50L49.60 336.20L55.32 339.50L55.32 346.10Z"/><path d="M61.00 349.40L55.28 346.10L55.28 339.50L61.00 336.20L66.72 339.50L66.72 346.10Z"/><path d="M55.30 359.30L49.58 356.00L49.58 349.40L55.30 346.10L61.02 349.40L61.02 356.00Z"/><path d="M66.70 359.30L60.98 356.00L60.98 349.40L66.70 346.10L72.42 349.40L72.42 356.00Z"/><path d="M72.4 349.4L76.8 347.3"/><path d="M41.5 373.9L45.8 374.1"/><path d="M55.15 379.96L48.85 379.96L45.70 374.50L48.85 369.04L55.15 369.04L58.30 374.50Z"/><path d="M58.5 375.2L64.4 377.8"/><path d="M54.5 380.3L57.9 385.6L64.4 384"/><path d="M69.90 387.00L64.44 383.85L64.44 377.55L69.90 374.40L75.36 377.55L75.36 383.85Z"/><path d="M80.80 387.00L75.34 383.85L75.34 377.55L80.80 374.40L86.26 377.55L86.26 383.85Z"/><path d="M55.50 404.10L53.16 402.75L53.16 400.05L55.50 398.70L57.84 400.05L57.84 402.75Z"/><path d="M57.8 402.7L60.5 404.6L63.4 404.2"/><path d="M66.10 403.60L68.67 405.47L67.69 408.48L64.51 408.48L63.53 405.47Z"/><path d="M66.8 409L66.1 412.4L64.7 414.3"/><path d="M63.50 420.80L60.82 419.25L60.82 416.15L63.50 414.60L66.18 416.15L66.18 419.25Z"/><path d="M60.8 419.3L58 419.8"/><path d="M54.20 423.50L51.86 422.15L51.86 419.45L54.20 418.10L56.54 419.45L56.54 422.15Z"/><path d="M67.70 436.70L64.93 435.10L64.93 431.90L67.70 430.30L70.47 431.90L70.47 435.10Z"/><path d="M64.9 435.2L64.5 440.5"/><path d="M64.4 440.8L65.2 444.7"/><path d="M64.80 451.30L61.94 449.65L61.94 446.35L64.80 444.70L67.66 446.35L67.66 449.65Z"/><path d="M61.9 449.7L58.7 450.3"/><path d="M53.90 454.60L51.22 453.05L51.22 449.95L53.90 448.40L56.58 449.95L56.58 453.05Z"/><path d="M62.50 467.70L59.64 466.05L59.64 462.75L62.50 461.10L65.36 462.75L65.36 466.05Z"/><path d="M61.80 474.80L58.94 473.15L58.94 469.85L61.80 468.20L64.66 469.85L64.66 473.15Z"/><path d="M62.2 476.8L66.6 477.8"/><path d="M58.8 477.2L56.2 480"/><path d="M54.90 486.30L52.13 484.70L52.13 481.50L54.90 479.90L57.67 481.50L57.67 484.70Z"/><path d="M67.3 478.5L69.4 480.2"/><path d="M69.40 486.60L66.63 485.00L66.63 481.80L69.40 480.20L72.17 481.80L72.17 485.00Z"/><path d="M58.00 501.40L55.58 500.00L55.58 497.20L58.00 495.80L60.42 497.20L60.42 500.00Z"/><path d="M58.2 495.8L58.5 493"/><path d="M60.5 500.3L62.6 502.8L60 505.5"/></g><circle cx="61.5" cy="134.3" r="0.4" fill="#777"/><circle cx="43.5" cy="148.9" r="0.7" fill="#45c845"/><circle cx="64.9" cy="150.7" r="0.55" fill="#3050d8"/><circle cx="72.8" cy="155.1" r="0.55" fill="#3050d8"/><circle cx="67.7" cy="178.8" r="0.5" fill="#45c845"/><circle cx="68.5" cy="185.5" r="0.5" fill="#3050d8"/><circle cx="60.6" cy="192.6" r="0.5" fill="#3050d8"/><circle cx="65.6" cy="197.1" r="0.5" fill="#e03434"/><circle cx="65.6" cy="219.3" r="0.55" fill="#e03434"/><circle cx="61.5" cy="223.6" r="0.5" fill="#3050d8"/><circle cx="64.5" cy="234.2" r="0.5" fill="#45c845"/><circle cx="61.3" cy="242.2" r="0.55" fill="#45c845"/><circle cx="69.5" cy="254.5" r="0.5" fill="#3050d8"/><circle cx="68.5" cy="258.7" r="0.5" fill="#3050d8"/><circle cx="63.5" cy="260.5" r="0.5" fill="#3050d8"/><circle cx="60.2" cy="257.6" r="0.45" fill="#e03434"/><circle cx="57.6" cy="273.6" r="0.75" fill="#45c845"/><circle cx="48.2" cy="286.6" r="0.6" fill="#e03434"/><circle cx="59" cy="283" r="0.55" fill="#3050d8"/><circle cx="55.3" cy="289.3" r="0.55" fill="#3050d8"/><circle cx="64.1" cy="284.4" r="0.55" fill="#3050d8"/><circle cx="64.1" cy="282.4" r="0.4" fill="#3050d8"/><circle cx="66.8" cy="290.4" r="0.6" fill="#e03434"/><circle cx="42.1" cy="310" r="1.0" fill="#45c845"/><circle cx="64" cy="324.2" r="0.75" fill="#3050d8"/><circle cx="64" cy="327.5" r="0.5" fill="#3050d8"/><circle cx="79" cy="346.5" r="0.9" fill="#45c845"/><circle cx="39.7" cy="373.8" r="0.9" fill="#45c845"/><circle cx="69.4" cy="374.4" r="0.7" fill="#3050d8"/><circle cx="69.4" cy="387" r="0.7" fill="#3050d8"/><circle cx="57.9" cy="385.6" r="0.7" fill="#3050d8"/><circle cx="57.6" cy="388.5" r="0.45" fill="#3050d8"/><circle cx="70.3" cy="403.8" r="0.4" fill="#666"/><circle cx="71.8" cy="431.1" r="0.55" fill="#45c845"/><circle cx="71.8" cy="436.8" r="0.55" fill="#e03434"/><circle cx="64.4" cy="440.8" r="0.5" fill="#3050d8"/><circle cx="67.4" cy="465" r="0.6" fill="#3050d8"/><circle cx="55" cy="476.8" r="0.6" fill="#e03434"/><circle cx="62.2" cy="476.8" r="0.5" fill="#3050d8"/><circle cx="67" cy="477.8" r="0.55" fill="#3050d8"/><circle cx="71" cy="477" r="0.55" fill="#e03434"/></svg></div>
<div class="a" style="left:15.5px;top:0;width:0.7px;height:402px;background:#d9dcdd"></div>
<div class="a" style="left:461.5px;top:0;width:3.6px;height:402px;background:#f2f2f2"></div>
<div class="a" style="left:461.5px;top:191.5px;width:3.6px;height:175.6px;background:#d9d9d9;border-radius:1.5px"></div>
</div>
<div class="a" style="left:14.5px;top:507px;width:461.5px;height:4.3px;background:#efefef"></div>
<div class="a" style="left:30.5px;top:507.2px;width:61.5px;height:3.9px;background:#d3d4d5;border-radius:1.5px"></div>
<div class="a" style="left:14.5px;top:511.2px;width:465px;height:0.8px;background:#d8dbdc"></div>
<div class="t" style="left:195.8px;top:517.65px;font-size:5.5px;color:#a9abad;font-weight:400;transform:scaleX(0.87);transform-origin:0 50%;">Selected : 9</div>
<div class="t" style="left:224.5px;top:517.65px;font-size:5.5px;color:#a9abad;font-weight:400;transform:scaleX(0.9);transform-origin:0 50%;">Total : 29</div>
<div class="a" style="left:255.8px;top:515.2px;width:17.8px;height:9.5px;background:#3c8fd7;border-radius:5px"></div>
<div class="a" style="left:265.3px;top:516.2px;width:7.5px;height:7.5px;background:#fff;border-radius:50%"></div>
<div class="t" style="left:277.7px;top:517.65px;font-size:5.5px;color:#a9abad;font-weight:400;transform:scaleX(0.98);transform-origin:0 50%;">Show All</div>
<div class="a" style="left:480px;top:73px;width:465.2px;height:19.5px;background:#e3e4e5"></div>
<div class="a" style="left:480px;top:73px;width:57.5px;height:19.5px;background:#f7f7f7"></div>
<div class="a" style="left:480px;top:91.2px;width:57.5px;height:1.5px;background:#93b4cf"></div>
<svg style="left:0;top:0" width="960" height="95"><rect x="484.4" y="78.3" width="7.3" height="6.2" fill="#3a78b0"/><rect x="485.6" y="79.4" width="2.3" height="4" fill="#e8f0f7"/><rect x="488.8" y="79.4" width="2" height="1.6" fill="#e8f0f7"/><rect x="488.8" y="81.8" width="2" height="1.6" fill="#e8f0f7"/><circle cx="527.5" cy="77.3" r="0.65" fill="#8a8c8e"/><circle cx="527.5" cy="81.8" r="0.65" fill="#8a8c8e"/><circle cx="527.5" cy="86.3" r="0.65" fill="#8a8c8e"/><path d="M540.6 82h9.4M545.3 77.3v9.4" stroke="#a9abad" stroke-width="1.3"/><path d="M914.5 82h9" stroke="#aeb0b2" stroke-width="1.3"/><path d="M934.8 81.5l2.8-2.8M933.4 82.9l-2.7 2.7" stroke="#aeb0b2" stroke-width="1.4"/><path d="M939.9 75.8l-4.8 1 3.8 3.8z M928.5 87.8l4.8-1-3.8-3.8z" fill="#aeb0b2"/></svg>
<div class="t" style="left:498.7px;top:78.80px;font-size:5.6px;color:#6a6a6a;letter-spacing:-0.05px;font-weight:400;">Tab 1</div>
<div class="a" style="left:482px;top:92.6px;width:465.5px;height:435px;background:#fff;border:0.8px solid #e9eaea"></div>
<div class="a" style="left:482.5px;top:93px;width:464.5px;height:17.4px;background:#f7f8f8;border-bottom:0.6px solid #eceeef"></div>
<div class="t" style="left:486.3px;top:100.90px;font-size:5.6px;color:#4a4a4a;letter-spacing:-0.06px;font-weight:400;">AlogP VS Polar Surface Area</div>
<svg style="left:0;top:0" width="960" height="130"><path d="M919.2 106.8l0.9-3.4 7.4-7.4c0.6-0.6 1.7-0.6 2.3 0l0.2 0.2c0.6 0.6 0.6 1.7 0 2.3l-7.4 7.4z" fill="#3f8fd2" stroke="#3f8fd2" stroke-width="0.5"/><path d="M921 103.8l2.2 2.2" stroke="#d6e6f4" stroke-width="0.5"/><path d="M918.3 107.8l1.4-0.5-0.9-0.9z" fill="#3f8fd2"/><path d="M935.8 99.8h8.4l-0.8 7.8c0 0.5-0.4 0.8-0.9 0.8h-5c-0.5 0-0.9-0.3-0.9-0.8z" fill="#a3a5a7"/><path d="M935 98.6h10" stroke="#a3a5a7" stroke-width="1"/><path d="M938.3 97.8h3.4" stroke="#a3a5a7" stroke-width="0.9"/></svg>
<svg style="left:0;top:0" width="960" height="130"><rect x="824.6" y="114.3" width="5.6" height="4.2" rx="0.6" fill="#c4c6c8"/><rect x="826.3" y="113.4" width="2.2" height="1" fill="#c4c6c8"/><circle cx="827.4" cy="116.4" r="1.1" fill="#fff"/><circle cx="839.5" cy="115.8" r="2" fill="none" stroke="#c4c6c8" stroke-width="0.8"/><path d="M841 117.3l1.7 1.7" stroke="#c4c6c8" stroke-width="1"/><path d="M838.6 115.8h1.8M839.5 114.9v1.8" stroke="#c4c6c8" stroke-width="0.5"/><path d="M846.5 116.4h6M849.5 113.4v6" stroke="#c4c6c8" stroke-width="0.7"/><path d="M846.3 116.4l1-0.9v1.8zM852.7 116.4l-1-0.9v1.8zM849.5 113.2l-0.9 1h1.8zM849.5 119.6l-0.9-1h1.8z" fill="#c4c6c8"/><rect x="856.6" y="113.7" width="5.4" height="5.4" fill="none" stroke="#c4c6c8" stroke-width="0.6" stroke-dasharray="1 0.8"/><ellipse cx="869.2" cy="115.6" rx="2.6" ry="2" fill="none" stroke="#c4c6c8" stroke-width="0.8"/><path d="M867.8 117.3l-0.8 2" stroke="#c4c6c8" stroke-width="0.7"/><rect x="879" y="113.6" width="5.6" height="5.6" fill="#c4c6c8"/><path d="M881.8 114.5v3.6M880.3 116.6l1.5 1.5 1.5-1.5" stroke="#fff" stroke-width="0.6" fill="none"/><rect x="888.2" y="113.6" width="5.6" height="5.6" fill="#c4c6c8"/><path d="M889.2 116.4h3.6" stroke="#fff" stroke-width="0.8"/><path d="M898.3 113.6l5.6 5.6M903.9 113.6l-5.6 5.6" stroke="#c4c6c8" stroke-width="0.6"/><path d="M908.3 116.6l2.7-2.6 2.7 2.6M909 116v3h1.3v-1.5h1.4v1.5h1.3v-3" stroke="#c4c6c8" stroke-width="0.6" fill="none"/><path d="M920 114h3.5M923 114v5.3" stroke="#c4c6c8" stroke-width="0.6" stroke-dasharray="0.9 0.5"/><path d="M930 116.4l1.8-1.8h4.6v3.6h-4.6z" fill="#6e7072"/><rect x="939.8" y="113.8" width="5.8" height="2" fill="#c4c6c8"/><rect x="939.8" y="117.1" width="5.8" height="2" fill="#c4c6c8"/></svg>
<svg style="left:0;top:0" width="960" height="540"><path d="M517 173.3H899.8" stroke="#ededed" stroke-width="0.6"/><path d="M517 215.3H899.8" stroke="#ededed" stroke-width="0.6"/><path d="M517 257.3H899.8" stroke="#ededed" stroke-width="0.6"/><path d="M517 299.3H899.8" stroke="#ededed" stroke-width="0.6"/><path d="M517 341.3H899.8" stroke="#ededed" stroke-width="0.6"/><path d="M517 383.3H899.8" stroke="#ededed" stroke-width="0.6"/><path d="M517 425.3H899.8" stroke="#ededed" stroke-width="0.6"/><path d="M517 467.3H899.8" stroke="#ededed" stroke-width="0.6"/><path d="M603.70 150.4V493.2" stroke="#ededed" stroke-width="0.6"/><path d="M672.90 150.4V493.2" stroke="#ededed" stroke-width="0.6"/><path d="M742.10 150.4V493.2" stroke="#ededed" stroke-width="0.6"/><path d="M811.30 150.4V493.2" stroke="#ededed" stroke-width="0.6"/><path d="M880.50 150.4V493.2" stroke="#ededed" stroke-width="0.6"/><path d="M534.5 151.0V493.2" stroke="#8c8c8c" stroke-width="0.9"/><defs><linearGradient id="cbg" x1="0" y1="1" x2="0" y2="0"><stop offset="0" stop-color="#0000ff"/><stop offset="1" stop-color="#ff0000"/></linearGradient></defs><rect x="911" y="154.8" width="12" height="334.5" fill="url(#cbg)"/><circle cx="634.9" cy="400.0" r="2.9" fill="#9b52a6"/><circle cx="667.8" cy="181.1" r="4.9" fill="#f2464c"/><circle cx="658.6" cy="241.5" r="3.85" fill="#d4487a"/><circle cx="667.0" cy="285.6" r="3.85" fill="#d0487c"/><circle cx="772.0" cy="172.4" r="3.5" fill="#b84a8e"/><circle cx="834.3" cy="241.8" r="2.7" fill="#a64a9e"/><circle cx="588.3" cy="340.5" r="3.3" fill="#b94a9a"/><circle cx="678.6" cy="361.1" r="2.3" fill="#6f4a86"/><circle cx="535.2" cy="373.5" r="0.9" fill="#555"/><circle cx="642.2" cy="396.7" r="4.4" fill="#f24848"/><circle cx="557.2" cy="416.3" r="2.2" fill="#c0567e"/><circle cx="579.0" cy="408.5" r="0.9" fill="#6a6a6a"/><circle cx="589.3" cy="426.3" r="0.9" fill="#6a6a6a"/><circle cx="576.3" cy="434.8" r="1.0" fill="#6a6a6a"/><circle cx="635.1" cy="417.1" r="1.4" fill="#c05890"/><circle cx="633.8" cy="430.4" r="0.9" fill="#666"/><circle cx="678.2" cy="418.4" r="0.9" fill="#777"/><circle cx="689.6" cy="433.8" r="3.3" fill="#8a3fa0"/><circle cx="711.8" cy="443.3" r="3.5" fill="#c94a80"/><circle cx="665.6" cy="444.9" r="0.9" fill="#5050c0"/><circle cx="668.9" cy="471.1" r="4.0" fill="#d44a6e"/><circle cx="802.2" cy="373.3" r="0.9" fill="#777"/><circle cx="747.8" cy="424.4" r="0.9" fill="#555"/><circle cx="876.0" cy="425.1" r="3.3" fill="#b84c8e"/><circle cx="821.6" cy="449.6" r="1.2" fill="#b05a80"/><circle cx="689.6" cy="433.8" r="1.3" fill="#4a2a7a"/></svg>
<div class="t" style="left:633.65px;top:391.25px;font-size:4.5px;color:#3a3a3a;letter-spacing:0px;font-weight:400;-webkit-text-stroke:0.12px #3a3a3a">0</div>
<div class="t" style="left:666.55px;top:170.35px;font-size:4.5px;color:#3a3a3a;letter-spacing:0px;font-weight:400;-webkit-text-stroke:0.12px #3a3a3a">1</div>
<div class="t" style="left:657.35px;top:231.80px;font-size:4.5px;color:#3a3a3a;letter-spacing:0px;font-weight:400;-webkit-text-stroke:0.12px #3a3a3a">1</div>
<div class="t" style="left:665.75px;top:275.90px;font-size:4.5px;color:#3a3a3a;letter-spacing:0px;font-weight:400;-webkit-text-stroke:0.12px #3a3a3a">1</div>
<div class="t" style="left:770.75px;top:163.05px;font-size:4.5px;color:#3a3a3a;letter-spacing:0px;font-weight:400;-webkit-text-stroke:0.12px #3a3a3a">2</div>
<div class="t" style="left:833.05px;top:233.25px;font-size:4.5px;color:#3a3a3a;letter-spacing:0px;font-weight:400;-webkit-text-stroke:0.12px #3a3a3a">2</div>
<div class="t" style="left:587.05px;top:331.35px;font-size:4.5px;color:#3a3a3a;letter-spacing:0px;font-weight:400;-webkit-text-stroke:0.12px #3a3a3a">1</div>
<div class="t" style="left:533.95px;top:366.75px;font-size:4.5px;color:#3a3a3a;letter-spacing:0px;font-weight:400;-webkit-text-stroke:0.12px #3a3a3a">1</div>
<div class="t" style="left:640.95px;top:386.45px;font-size:4.5px;color:#3a3a3a;letter-spacing:0px;font-weight:400;-webkit-text-stroke:0.12px #3a3a3a">1</div>
<div class="t" style="left:555.95px;top:408.25px;font-size:4.5px;color:#3a3a3a;letter-spacing:0px;font-weight:400;-webkit-text-stroke:0.12px #3a3a3a">0</div>
<div class="t" style="left:577.75px;top:401.75px;font-size:4.5px;color:#3a3a3a;letter-spacing:0px;font-weight:400;-webkit-text-stroke:0.12px #3a3a3a">0</div>
<div class="t" style="left:588.05px;top:419.55px;font-size:4.5px;color:#3a3a3a;letter-spacing:0px;font-weight:400;-webkit-text-stroke:0.12px #3a3a3a">0</div>
<div class="t" style="left:575.05px;top:427.95px;font-size:4.5px;color:#3a3a3a;letter-spacing:0px;font-weight:400;-webkit-text-stroke:0.12px #3a3a3a">0</div>
<div class="t" style="left:633.85px;top:409.85px;font-size:4.5px;color:#3a3a3a;letter-spacing:0px;font-weight:400;-webkit-text-stroke:0.12px #3a3a3a">0</div>
<div class="t" style="left:632.55px;top:423.65px;font-size:4.5px;color:#3a3a3a;letter-spacing:0px;font-weight:400;-webkit-text-stroke:0.12px #3a3a3a">1</div>
<div class="t" style="left:676.95px;top:411.65px;font-size:4.5px;color:#3a3a3a;letter-spacing:0px;font-weight:400;-webkit-text-stroke:0.12px #3a3a3a">0</div>
<div class="t" style="left:688.35px;top:424.65px;font-size:4.5px;color:#3a3a3a;letter-spacing:0px;font-weight:400;-webkit-text-stroke:0.12px #3a3a3a">0</div>
<div class="t" style="left:710.55px;top:433.95px;font-size:4.5px;color:#3a3a3a;letter-spacing:0px;font-weight:400;-webkit-text-stroke:0.12px #3a3a3a">1</div>
<div class="t" style="left:664.35px;top:438.15px;font-size:4.5px;color:#3a3a3a;letter-spacing:0px;font-weight:400;-webkit-text-stroke:0.12px #3a3a3a">0</div>
<div class="t" style="left:667.65px;top:461.25px;font-size:4.5px;color:#3a3a3a;letter-spacing:0px;font-weight:400;-webkit-text-stroke:0.12px #3a3a3a">1</div>
<div class="t" style="left:800.95px;top:366.55px;font-size:4.5px;color:#3a3a3a;letter-spacing:0px;font-weight:400;-webkit-text-stroke:0.12px #3a3a3a">0</div>
<div class="t" style="left:746.55px;top:417.65px;font-size:4.5px;color:#3a3a3a;letter-spacing:0px;font-weight:400;-webkit-text-stroke:0.12px #3a3a3a">1</div>
<div class="t" style="left:874.75px;top:415.95px;font-size:4.5px;color:#3a3a3a;letter-spacing:0px;font-weight:400;-webkit-text-stroke:0.12px #3a3a3a">1</div>
<div class="t" style="left:820.35px;top:442.55px;font-size:4.5px;color:#3a3a3a;letter-spacing:0px;font-weight:400;-webkit-text-stroke:0.12px #3a3a3a">0</div>
<div class="t" style="left:688.35px;top:421.85px;font-size:4.5px;color:#3a3a3a;letter-spacing:0px;font-weight:400;-webkit-text-stroke:0.12px #3a3a3a">0</div>
<div class="t" style="right:445.5px;top:171.80px;font-size:4.6px;color:#333;text-align:right;-webkit-text-stroke:0.1px #333">7</div>
<div class="t" style="right:445.5px;top:213.80px;font-size:4.6px;color:#333;text-align:right;-webkit-text-stroke:0.1px #333">6.5</div>
<div class="t" style="right:445.5px;top:255.80px;font-size:4.6px;color:#333;text-align:right;-webkit-text-stroke:0.1px #333">6</div>
<div class="t" style="right:445.5px;top:297.80px;font-size:4.6px;color:#333;text-align:right;-webkit-text-stroke:0.1px #333">5.5</div>
<div class="t" style="right:445.5px;top:339.80px;font-size:4.6px;color:#333;text-align:right;-webkit-text-stroke:0.1px #333">5</div>
<div class="t" style="right:445.5px;top:381.80px;font-size:4.6px;color:#333;text-align:right;-webkit-text-stroke:0.1px #333">4.5</div>
<div class="t" style="right:445.5px;top:423.80px;font-size:4.6px;color:#333;text-align:right;-webkit-text-stroke:0.1px #333">4</div>
<div class="t" style="right:445.5px;top:465.80px;font-size:4.6px;color:#333;text-align:right;-webkit-text-stroke:0.1px #333">3.5</div>
<div class="t" style="left:524.5px;width:20px;text-align:center;top:494.6px;font-size:4.6px;color:#333;-webkit-text-stroke:0.1px #333">0</div>
<div class="t" style="left:593.7px;width:20px;text-align:center;top:494.6px;font-size:4.6px;color:#333;-webkit-text-stroke:0.1px #333">20</div>
<div class="t" style="left:662.9px;width:20px;text-align:center;top:494.6px;font-size:4.6px;color:#333;-webkit-text-stroke:0.1px #333">40</div>
<div class="t" style="left:732.1px;width:20px;text-align:center;top:494.6px;font-size:4.6px;color:#333;-webkit-text-stroke:0.1px #333">60</div>
<div class="t" style="left:801.3px;width:20px;text-align:center;top:494.6px;font-size:4.6px;color:#333;-webkit-text-stroke:0.1px #333">80</div>
<div class="t" style="left:870.5px;width:20px;text-align:center;top:494.6px;font-size:4.6px;color:#333;-webkit-text-stroke:0.1px #333">100</div>
<div class="t" style="left:925.3px;top:152.50px;font-size:4.6px;color:#333;-webkit-text-stroke:0.1px #333">1</div>
<div class="t" style="left:925.3px;top:212.15px;font-size:4.6px;color:#333;-webkit-text-stroke:0.1px #333">0.9</div>
<div class="t" style="left:925.3px;top:271.80px;font-size:4.6px;color:#333;-webkit-text-stroke:0.1px #333">0.8</div>
<div class="t" style="left:925.3px;top:331.45px;font-size:4.6px;color:#333;-webkit-text-stroke:0.1px #333">0.7</div>
<div class="t" style="left:925.3px;top:391.10px;font-size:4.6px;color:#333;-webkit-text-stroke:0.1px #333">0.6</div>
<div class="t" style="left:925.3px;top:450.75px;font-size:4.6px;color:#333;-webkit-text-stroke:0.1px #333">0.5</div>
<div class="t" style="left:683.5px;top:510.40px;font-size:5.6px;color:#444;letter-spacing:-0.02px;font-weight:400;">Polar Surface Area</div>
<div class="t" style="left:497.8px;top:322.2px;font-size:5.6px;color:#333;-webkit-text-stroke:0.1px #333;transform:translate(-50%,-50%) rotate(-90deg)">AlogP</div>
<div class="t" style="left:935.2px;top:321px;font-size:5.8px;color:#444;transform:translate(-50%,-50%) rotate(90deg)">GTD / OverallDesirability</div>
<svg style="left:0;top:0" width="960" height="540"><path d="M582.9 284.9h12M588.9 279.1v11.8" stroke="#5a5e62" stroke-width="2"/><circle cx="588.9" cy="284.9" r="1.7" fill="#7f8a6e" stroke="#8a8fc8" stroke-width="0.4"/></svg>
<div class="t" style="left:588.3px;top:274.75px;font-size:4.5px;color:#3a3a3a;letter-spacing:0px;font-weight:400;-webkit-text-stroke:0.12px #3a3a3a">1</div>
<div class="t" style="left:599.5px;top:287.75px;font-size:4.5px;color:#3a3a3a;letter-spacing:0px;font-weight:400;-webkit-text-stroke:0.12px #3a3a3a">1</div>
<div class="a" style="left:590.5px;top:291.5px;width:89px;height:88.5px;background:#fff;border:0.7px solid #e2e4e5;border-radius:2.5px"></div>
<div class="t" style="left:594.8px;top:338.05px;font-size:5.5px;color:#333;letter-spacing:-0.1px;font-weight:400;">Polar Surface Area: 15.71</div>
<div class="t" style="left:594.8px;top:345.97px;font-size:5.5px;color:#333;letter-spacing:-0.1px;font-weight:400;">AlogP: 5.675</div>
<div class="t" style="left:594.8px;top:353.89px;font-size:5.5px;color:#333;letter-spacing:-0.1px;font-weight:400;">GTD / OverallDesirability:</div>
<div class="t" style="left:594.8px;top:361.81px;font-size:5.5px;color:#333;letter-spacing:-0.1px;font-weight:400;">0.71468546643255</div>
<div class="t" style="left:594.8px;top:369.73px;font-size:5.5px;color:#333;letter-spacing:-0.1px;font-weight:400;">Rule 5 Violations: 1</div>
<svg style="left:0;top:0" width="960" height="540"><g fill="none" stroke="#000" stroke-opacity="0.45" stroke-width="0.5"><path d="M627.20 306.20L623.91 304.30L623.91 300.50L627.20 298.60L630.49 300.50L630.49 304.30Z"/><path d="M621.5 299.5L624 300.5"/><path d="M630.5 300.5L633.3 298.4L636.9 300.5"/><path d="M640.20 306.20L636.91 304.30L636.91 300.50L640.20 298.60L643.49 300.50L643.49 304.30Z"/><path d="M643.5 304.3L646.3 306.7L646.6 309.4"/><path d="M646.60 317.00L643.31 315.10L643.31 311.30L646.60 309.40L649.89 311.30L649.89 315.10Z"/><path d="M625 301.2L625 303.6"/><path d="M645 311.5L645 314.8"/><path d="M646.6 317L646.6 320.5"/><path d="M646.4 321.5L643.7 323L643.5 326.5"/><path d="M643.30 334.10L640.01 332.20L640.01 328.40L643.30 326.50L646.59 328.40L646.59 332.20Z"/><path d="M641.7 329.2L641.7 331.4"/></g><circle cx="620.6" cy="298.5" r="0.8" fill="#45c845"/><circle cx="636.9" cy="300.5" r="0.65" fill="#3050d8"/><circle cx="643.5" cy="304.3" r="0.65" fill="#3050d8"/><circle cx="646.6" cy="321" r="0.75" fill="#e03434"/></svg>
<div class="a" style="left:689.6px;top:535.6px;width:127.6px;height:5px;background:#2e2f33"></div>
</div></body></html>
